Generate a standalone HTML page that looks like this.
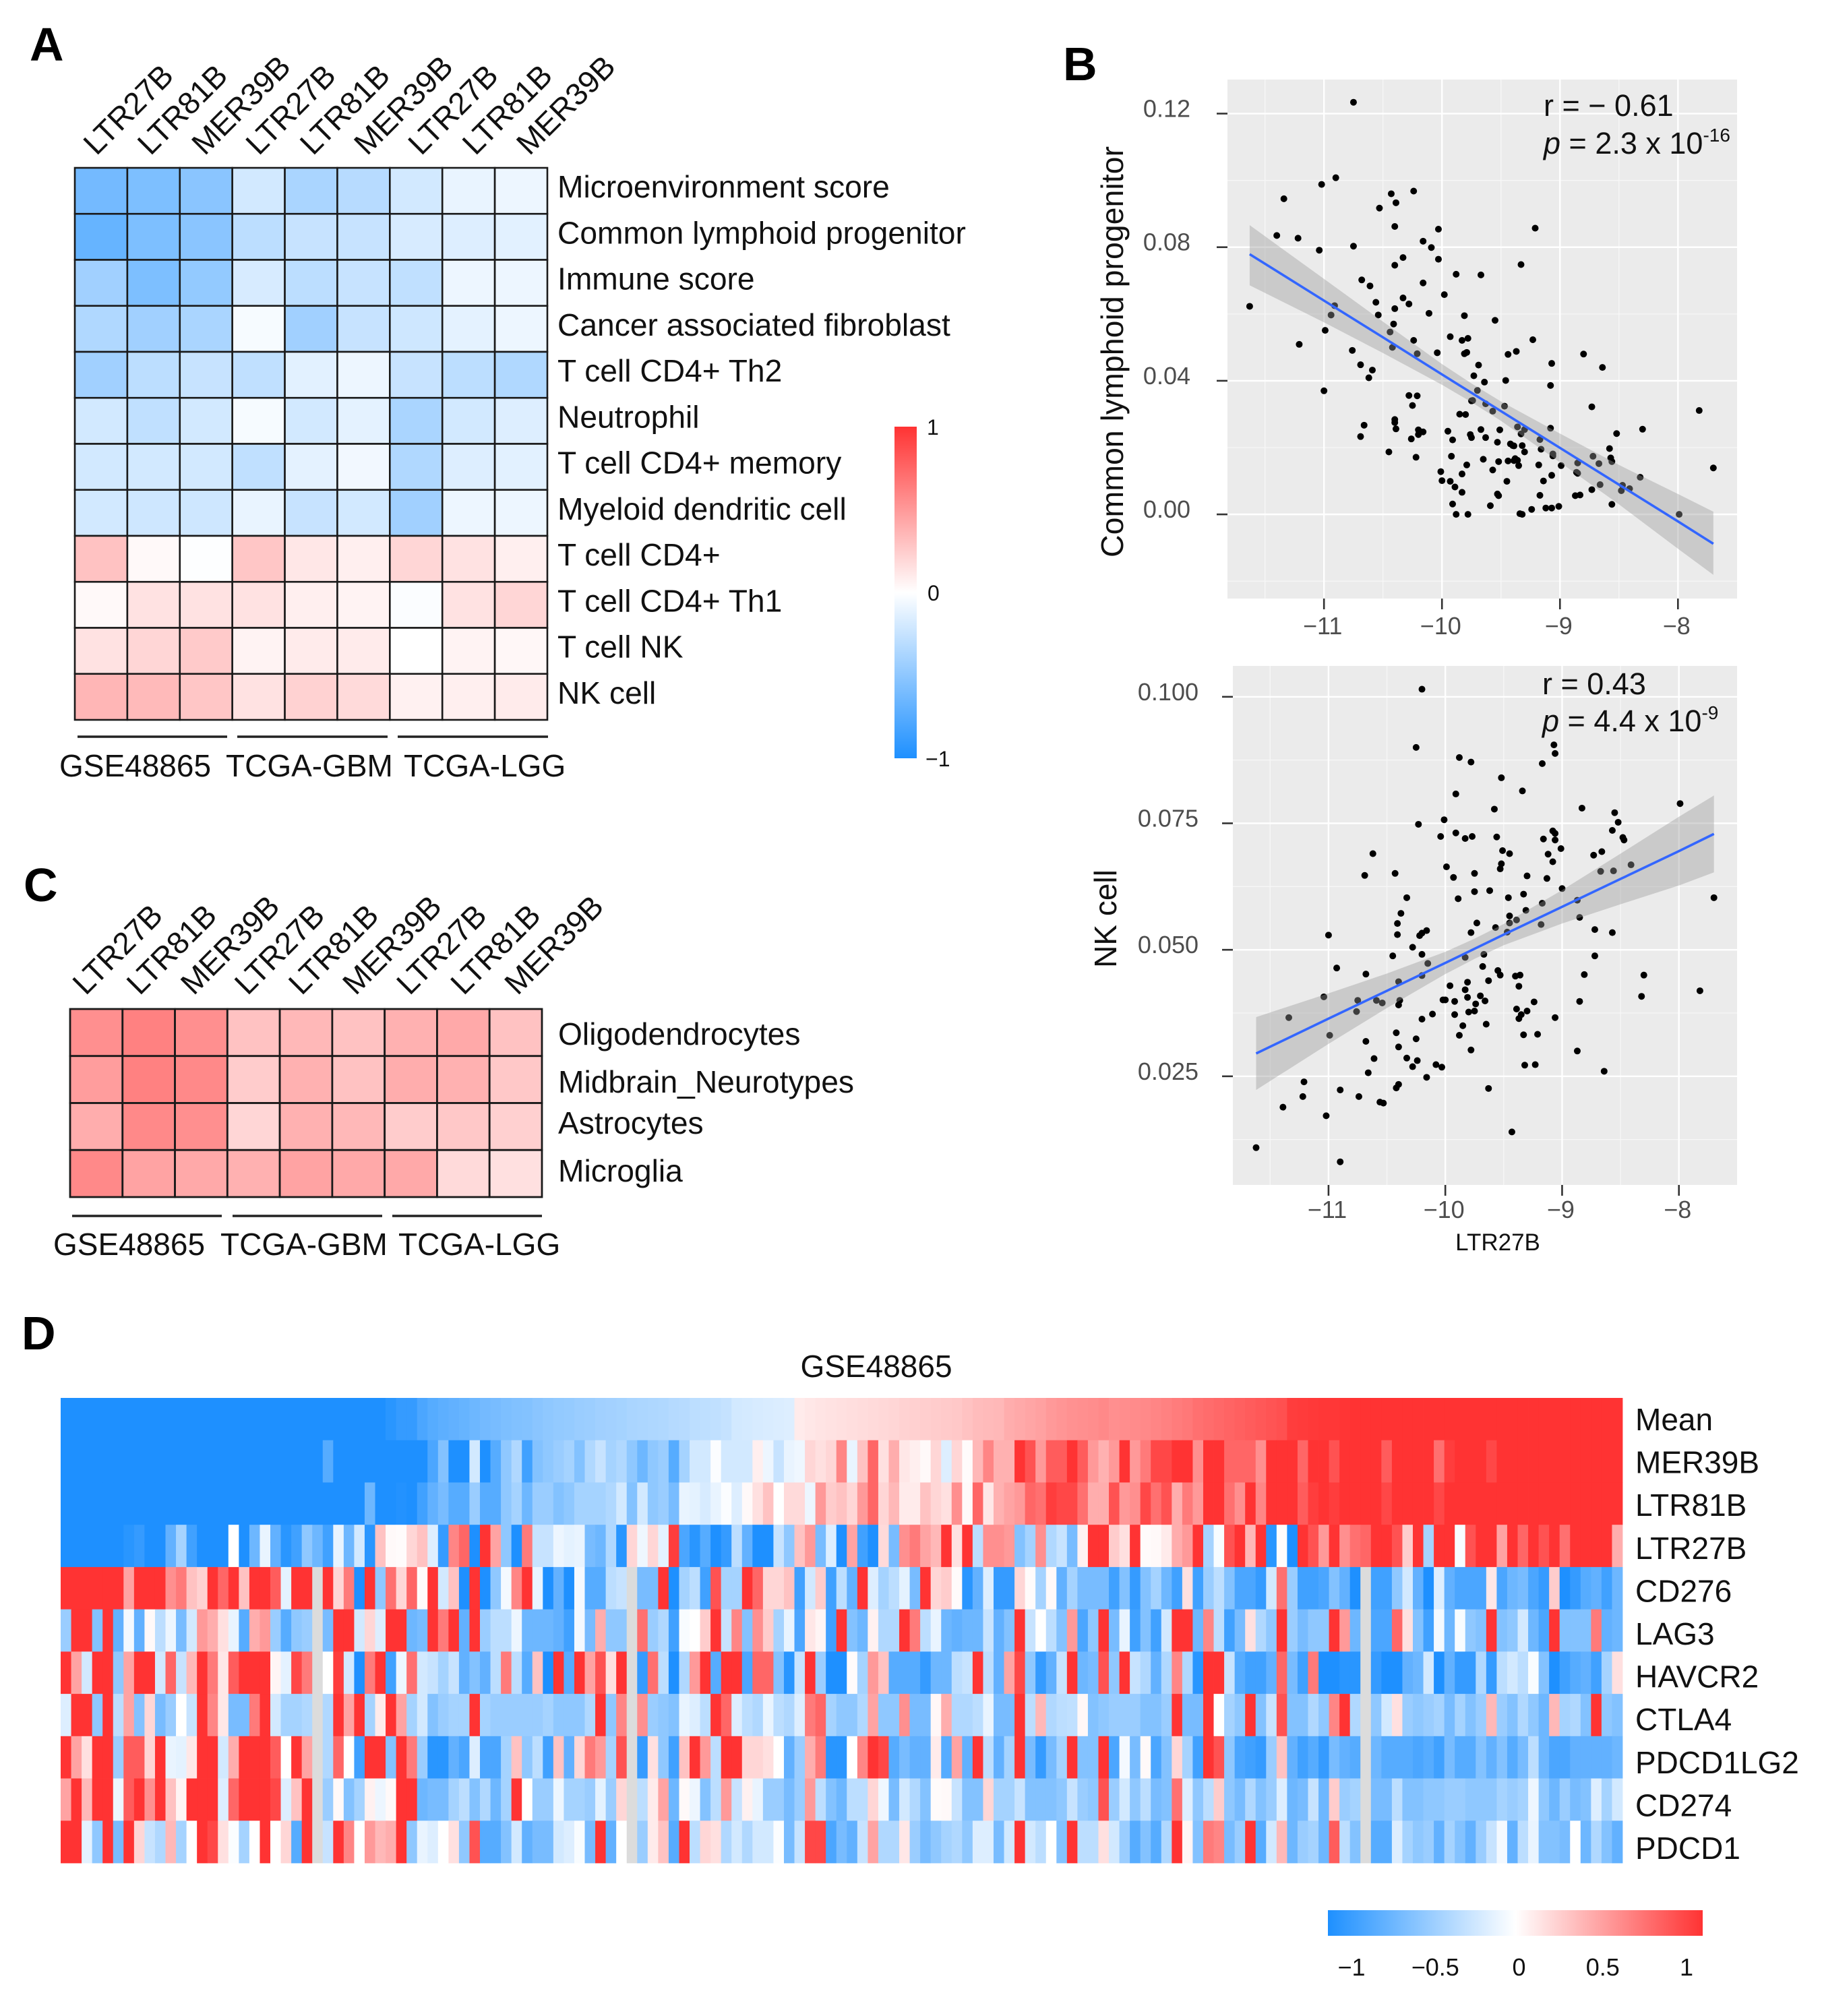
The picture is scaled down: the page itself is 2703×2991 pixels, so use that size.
<!DOCTYPE html>
<html lang="en">
<head>
<meta charset="utf-8">
<title>Panels A-D: heatmaps and scatter plots</title>
<style>
html,body{margin:0;padding:0;background:#fff;}
svg{display:block;}
text{font-family:"Liberation Sans",sans-serif;fill:#111;}
.tick{fill:#4d4d4d;font-size:36px;}
.letter{font-weight:bold;font-size:70px;fill:#000;}
.note{font-size:45px;}
</style>
</head>
<body>
<svg id="fig" xmlns="http://www.w3.org/2000/svg" width="2703" height="2991" viewBox="0 0 2703 2991">
  <rect x="0" y="0" width="2703" height="2991" fill="#fff"/>
  <text class="letter" x="44" y="90">A</text>
  <text class="letter" x="1577" y="119">B</text>
  <text class="letter" x="35" y="1337">C</text>
  <text class="letter" x="32" y="2002">D</text>

  <g id="panelA"></g>
  <g id="panelC"></g>
  <g id="scatter1"></g>
  <g id="scatter2"></g>
  <g id="panelD"></g>

  <text font-size="46.5" text-anchor="middle" transform="translate(1666,522) rotate(-90)">Common lymphoid progenitor</text>
  <text font-size="46" text-anchor="middle" transform="translate(1656,1363) rotate(-90)">NK cell</text>
  <text font-size="35" text-anchor="middle" x="2222" y="1855">LTR27B</text>

  <text class="note" x="2290" y="172">r = − 0.61</text>
  <text class="note" x="2290" y="228"><tspan font-style="italic">p</tspan> = 2.3 x 10<tspan font-size="28" dy="-18">-16</tspan></text>
  <text class="note" x="2288" y="1030">r = 0.43</text>
  <text class="note" x="2288" y="1085"><tspan font-style="italic">p</tspan> = 4.4 x 10<tspan font-size="28" dy="-18">-9</tspan></text>

  <text font-size="46" text-anchor="middle" x="1300" y="2043">GSE48865</text>

  <defs>
    <linearGradient id="gradV" x1="0" y1="0" x2="0" y2="1">
      <stop offset="0" stop-color="#ff3333"/><stop offset="0.5" stop-color="#ffffff"/><stop offset="1" stop-color="#1e90ff"/>
    </linearGradient>
    <linearGradient id="gradH" x1="0" y1="0" x2="1" y2="0">
      <stop offset="0" stop-color="#1e90ff"/><stop offset="0.5" stop-color="#ffffff"/><stop offset="1" stop-color="#ff3333"/>
    </linearGradient>
  </defs>
  <rect x="1327" y="633" width="33" height="492" fill="url(#gradV)"/>
  <text font-size="32" x="1375" y="645">1</text>
  <text font-size="32" x="1376" y="891">0</text>
  <text font-size="32" x="1373" y="1137">−1</text>
  <rect x="1970" y="2834" width="556" height="38" fill="url(#gradH)"/>
</svg>
<script>
// ---------- Panel A data ----------
var aColumns = ["LTR27B","LTR81B","MER39B","LTR27B","LTR81B","MER39B","LTR27B","LTR81B","MER39B"];
var aRowLabels = ["Microenvironment score","Common lymphoid progenitor","Immune score","Cancer associated fibroblast","T cell CD4+ Th2","Neutrophil","T cell CD4+ memory","Myeloid dendritic cell","T cell CD4+","T cell CD4+ Th1","T cell NK","NK cell"];
var aValues = [
[-.62,-.58,-.52,-.2,-.38,-.32,-.2,-.1,-.08],
[-.68,-.58,-.52,-.3,-.25,-.25,-.18,-.15,-.13],
[-.42,-.58,-.48,-.18,-.3,-.25,-.28,-.08,-.08],
[-.35,-.42,-.38,-.04,-.42,-.25,-.22,-.12,-.08],
[-.42,-.3,-.25,-.28,-.13,-.08,-.25,-.3,-.35],
[-.2,-.28,-.2,-.04,-.2,-.12,-.38,-.2,-.15],
[-.2,-.2,-.2,-.28,-.12,-.06,-.35,-.15,-.13],
[-.2,-.22,-.22,-.1,-.25,-.2,-.42,-.08,-.08],
[.3,.03,-.01,.28,.12,.08,.2,.14,.08],
[.03,.14,.14,.14,.08,.06,-.02,.14,.2],
[.14,.2,.26,.06,.1,.1,0,.06,.04],
[.36,.34,.28,.14,.22,.18,.07,.08,.1]
];
var groupLabels = ["GSE48865","TCGA-GBM","TCGA-LGG"];

// ---------- Panel C data ----------
var cColumns = ["LTR27B","LTR81B","MER39B","LTR27B","LTR81B","MER39B","LTR27B","LTR81B","MER39B"];
var cRowLabels = ["Oligodendrocytes","Midbrain_Neurotypes","Astrocytes","Microglia"];
var cValues = [
[.55,.62,.55,.3,.35,.3,.38,.42,.3],
[.48,.62,.58,.25,.38,.3,.4,.38,.27],
[.4,.58,.55,.2,.38,.35,.25,.27,.23],
[.58,.45,.42,.38,.45,.42,.42,.18,.15]
];

// ---------- Panel B: common lymphoid progenitor ----------
var clpX = [-10.75,-10.90,-11.02,-11.34,-10.43,-10.39,-10.24,-10.53,-10.40,-11.40,-11.22,-11.04,-10.75,-10.03,-9.21,-10.16,-10.09,-10.03,-10.33,-10.40,-9.33,-9.88,-9.67,-10.68,-10.61,-10.16,-9.98,-10.56,-10.33,-10.28,-10.40,-10.91,-11.63,-10.94,-10.54,-10.11,-9.81,-9.55,-10.41,-10.99,-10.44,-9.93,-9.83,-9.78,-10.24,-9.23,-11.21,-10.42,-10.76,-10.21,-10.04,-9.81,-9.79,-9.44,-9.37,-8.80,-9.07,-10.69,-9.69,-10.59,-8.64,-10.62,-9.73,-9.64,-9.46,-9.08,-9.70,-11.00,-10.28,-10.21,-9.74,-9.75,-9.63,-10.25,-9.47,-8.73,-9.57,-7.82,-9.85,-9.80,-10.40,-10.40,-10.66,-10.39,-9.36,-9.08,-9.30,-8.30,-10.20,-10.16,-9.95,-9.67,-9.51,-10.20,-9.33,-8.52,-9.76,-9.75,-9.63,-10.69,-10.26,-9.91,-9.17,-9.53,-9.42,-9.40,-9.32,-9.39,-9.16,-8.58,-10.45,-9.30,-9.06,-9.06,-9.92,-8.72,-10.22,-9.65,-9.38,-9.36,-9.39,-9.44,-9.52,-8.57,-8.56,-8.67,-8.85,-9.18,-9.35,-8.99,-9.79,-9.57,-8.86,-8.85,-10.01,-9.83,-9.07,-8.32,-7.70,-10.00,-9.93,-9.45,-9.14,-8.66,-9.89,-8.47,-8.41,-8.48,-8.73,-9.83,-9.53,-9.52,-9.17,-8.87,-8.83,-9.91,-8.56,-9.59,-9.01,-9.24,-9.12,-9.07,-9.88,-9.78,-9.34,-9.32,-7.99];
var clpY = [.1234,.1008,.0988,.0945,.0960,.0933,.0968,.0917,.0862,.0835,.0827,.0791,.0803,.0854,.0857,.0818,.0799,.0764,.0769,.0746,.0748,.0719,.0717,.0702,.0684,.0693,.0658,.0635,.0648,.0630,.0616,.0625,.0623,.0597,.0597,.0602,.0595,.0581,.0570,.0551,.0546,.0532,.0521,.0527,.0521,.0523,.0509,.0500,.0491,.0481,.0484,.0481,.0485,.0479,.0488,.0480,.0452,.0448,.0447,.0432,.0440,.0409,.0415,.0396,.0401,.0386,.0371,.0370,.0356,.0355,.0341,.0340,.0331,.0326,.0324,.0322,.0309,.0311,.0300,.0299,.0284,.0275,.0267,.0256,.0262,.0258,.0254,.0255,.0253,.0247,.0249,.0254,.0253,.0239,.0241,.0242,.0239,.0230,.0230,.0233,.0226,.0223,.0224,.0216,.0211,.0206,.0206,.0205,.0195,.0197,.0187,.0187,.0181,.0175,.0174,.0174,.0171,.0165,.0167,.0162,.0161,.0160,.0158,.0169,.0158,.0152,.0154,.0148,.0146,.0146,.0148,.0133,.0126,.0123,.0128,.0121,.0117,.0111,.0139,.0101,.0099,.0099,.0100,.0089,.0082,.0087,.0077,.0071,.0074,.0066,.0061,.0056,.0057,.0056,.0058,.0031,.0030,.0026,.0024,.0015,.0019,.0019,0,0,.0002,0,0];
var clpFitX = [-11.63,-11,-10.5,-10,-9.75,-9.5,-9,-8.5,-8,-7.7];
var clpFit = [.0779,.0640,.0530,.0419,.0364,.0309,.0199,.0089,-.0021,-.0088];
var clpLow = [.0686,.0575,.0483,.0388,.0336,.0280,.0156,.0030,-.0103,-.0181];
var clpHigh = [.0866,.0705,.0577,.0450,.0392,.0338,.0242,.0148,.0061,.0008];
var clpYTicks = [0,.04,.08,.12];
var clpYTickLabels = ["0.00","0.04","0.08","0.12"];
var clpYMinor = [-.02,.02,.06,.10];
var sharedXTicks = [-11,-10,-9,-8];
var sharedXTickLabels = ["−11","−10","−9","−8"];
var sharedXMinor = [-11.5,-10.5,-9.5,-8.5];

// ---------- Panel B: NK cell ----------
var nkX = [-10.20,-10.25,-9.88,-9.78,-9.07,-9.06,-9.17,-9.52,-9.34,-9.91,-9.58,-8.83,-7.99,-8.55,-8.52,-10.01,-10.23,-9.08,-9.06,-9.91,-9.77,-9.83,-10.04,-9.56,-9.16,-9.06,-8.57,-8.48,-8.47,-9.01,-9.51,-9.45,-10.62,-9.12,-8.73,-8.66,-9.08,-9.52,-9.99,-9.53,-8.41,-8.67,-8.56,-10.69,-10.43,-9.75,-9.93,-9.30,-9.13,-9.00,-9.62,-9.75,-9.33,-9.89,-10.33,-9.46,-7.70,-9.17,-8.87,-9.31,-10.38,-9.45,-8.85,-9.39,-10.41,-9.73,-9.45,-9.18,-9.57,-10.16,-10.20,-10.22,-9.78,-9.47,-8.72,-8.57,-11.00,-10.41,-10.28,-10.20,-9.67,-10.45,-9.83,-8.72,-10.15,-9.68,-10.93,-9.55,-9.53,-10.68,-10.20,-9.36,-9.40,-8.81,-8.30,-9.63,-10.40,-9.81,-9.96,-9.37,-9.83,-7.82,-9.70,-9.81,-8.32,-11.04,-10.02,-10.00,-10.75,-10.39,-9.66,-10.59,-10.54,-9.92,-8.85,-9.24,-9.74,-10.40,-9.39,-9.30,-9.75,-10.76,-9.80,-9.35,-10.11,-9.92,-9.37,-9.06,-11.34,-10.20,-9.65,-9.85,-10.42,-10.99,-9.33,-9.21,-9.88,-10.25,-10.68,-10.40,-9.78,-8.87,-10.33,-10.61,-10.24,-10.08,-9.32,-9.23,-10.28,-10.03,-8.64,-10.66,-10.16,-11.21,-10.40,-10.42,-9.63,-10.90,-11.22,-10.74,-10.56,-10.53,-11.39,-11.02,-9.43,-11.62,-10.90];
var nkY = [.1015,.0900,.0880,.0871,.0905,.0888,.0868,.0840,.0814,.0808,.0778,.0780,.0789,.0771,.0752,.0757,.0748,.0735,.0730,.0731,.0724,.0720,.0724,.0723,.0719,.0717,.0736,.0722,.0717,.0700,.0696,.0690,.0690,.0689,.0687,.0694,.0674,.0670,.0664,.0660,.0668,.0655,.0656,.0647,.0651,.0651,.0643,.0646,.0641,.0621,.0617,.0615,.0610,.0601,.0603,.0603,.0603,.0592,.0598,.0578,.0572,.0567,.0564,.0559,.0552,.0553,.0553,.0550,.0544,.0538,.0533,.0528,.0534,.0535,.0540,.0534,.0529,.0530,.0505,.0491,.0491,.0488,.0485,.0488,.0473,.0467,.0464,.0459,.0450,.0452,.0449,.0450,.0448,.0451,.0450,.0439,.0437,.0436,.0429,.0428,.0421,.0419,.0409,.0406,.0408,.0407,.0401,.0401,.0400,.0400,.0399,.0400,.0395,.0398,.0398,.0397,.0393,.0391,.0383,.0379,.0379,.0378,.0377,.0372,.0373,.0372,.0364,.0366,.0366,.0363,.0353,.0350,.0336,.0331,.0332,.0333,.0331,.0324,.0319,.0308,.0302,.0300,.0286,.0285,.0281,.0273,.0272,.0273,.0269,.0268,.0260,.0257,.0248,.0239,.0234,.0227,.0226,.0223,.0210,.0210,.0199,.0197,.0189,.0172,.0140,.0109,.0081];
var nkFitX = [-11.62,-11,-10.5,-10,-9.75,-9.5,-9,-8.5,-8,-7.7];
var nkFit = [.0295,.0364,.0419,.0474,.0502,.0530,.0585,.0640,.0695,.0729];
var nkLow = [.0223,.0314,.0385,.0452,.0482,.0509,.0552,.0590,.0627,.0653];
var nkHigh = [.0367,.0414,.0453,.0496,.0522,.0551,.0618,.0690,.0763,.0805];
var nkYTicks = [.025,.05,.075,.1];
var nkYTickLabels = ["0.025","0.050","0.075","0.100"];
var nkYMinor = [.0125,.0375,.0625,.0875];

// ---------- Panel D data ----------
var dRowLabels = ["Mean","MER39B","LTR81B","LTR27B","CD276","LAG3","HAVCR2","CTLA4","PDCD1LG2","CD274","PDCD1"];
var dMean = [-1,-1,-1,-1,-1,-1,-1,-1,-1,-1,-1,-1,-1,-1,-1,-1,-1,-1,-1,-1,-1,-1,-1,-1,-1,-1,-1,-1,-1,-1,-1,-.95,-.9,-.9,-.8,-.75,-.72,-.7,-.68,-.65,-.62,-.6,-.58,-.56,-.55,-.52,-.5,-.48,-.47,-.45,-.44,-.42,-.41,-.4,-.38,-.37,-.36,-.35,-.33,-.32,-.3,-.29,-.28,-.26,-.2,-.19,-.18,-.17,-.16,-.15,.1,.12,.13,.14,.15,.16,.17,.18,.19,.2,.22,.23,.24,.25,.26,.27,.3,.33,.34,.35,.4,.42,.44,.46,.5,.52,.54,.55,.56,.58,.55,.56,.57,.58,.6,.62,.64,.66,.7,.72,.74,.76,.78,.8,.82,.84,.86,.95,.96,.97,.98,.98,.99,1,1,1,1,1,1,1,1,1,1,1,1,1,1,1,1,1,1,1,1,1,1,1,1,1,1];
var dMER39B = [-1,-1,-1,-1,-1,-1,-1,-1,-1,-1,-1,-1,-1,-1,-1,-1,-1,-1,-1,-1,-1,-1,-1,-1,-1,-.75,-1,-1,-1,-1,-1,-1,-1,-1,-1,-.8,-.55,-1,-1,-.2,-1,-.75,-.5,-.35,-.85,-.55,-.5,-.45,-.4,-.55,-.35,-.25,-.4,-.35,-.5,-.65,-.5,-.45,-.75,-.4,-.2,-.2,-.02,-.2,-.2,-.2,.08,-.08,-.25,-.1,-.07,.2,.15,.2,.6,-.1,.3,.75,.15,.4,.12,.08,.03,.2,-.15,.2,.02,.35,.6,.38,.38,1,.85,.5,.8,.8,1,.8,.5,.38,.5,1,.5,.65,.9,.9,1,1,.55,1,1,.75,.75,.75,.55,1,1,1,.75,1,1,.85,1,1,1,1,.8,1,1,1,1,.7,.95,1,1,1,.9,1,1,1,1,1,1,1,1,1,1,1,1];
var dLTR81B = [-1,-1,-1,-1,-1,-1,-1,-1,-1,-1,-1,-1,-1,-1,-1,-1,-1,-1,-1,-1,-1,-1,-1,-1,-1,-1,-1,-1,-1,-.65,-1,-1,-.98,-1,-.85,-.7,-.6,-.75,-.75,-.45,-.75,-.75,-.5,-.4,-.65,-.45,-.45,-.55,-.5,-.4,-.4,-.4,-.35,-.2,-.55,-.2,-.5,-.45,-.6,-.1,-.12,-.18,-.1,-.02,-.15,.03,.15,.3,0,.18,.18,-.08,.5,.25,.3,.2,.5,.75,.2,.35,.1,.1,.3,.2,.15,.55,.03,.75,.12,.38,.45,.5,.75,.7,.95,.9,.9,.7,.4,.4,.85,.5,.55,.9,.7,.85,.4,.65,.5,1,1,.7,.55,1,.6,1,1,1,.8,.95,1,.95,1,1,1,1,.9,1,1,1,1,.9,1,1,1,1,1,1,1,1,1,1,1,1,1,1,1,1,1];
var dLTR27B = [-1,-1,-1,-1,-1,-1,-.95,-.9,-1,-1,-.7,-.4,-.85,-1,-1,-1,0,-1,-.65,-.1,-.7,-.95,-.85,-.5,-.65,-.85,-.1,-.65,-.2,-.95,.3,.03,.02,.2,.3,-.15,-.9,.6,.75,-1,1,.45,-.5,-1,.65,-.25,-.25,-.08,-.12,-.1,-.6,-.65,-.35,-.95,.2,-.07,.2,-.12,.95,-.8,-.95,-.75,-1,-.9,-.3,-.7,-1,-1,-.25,-.5,.3,.5,-.6,-.15,-1,.45,-.85,-1,.18,-.6,.55,.65,.45,.35,1,.15,1,-.3,.55,.55,.5,-.55,-.4,.55,-.35,-.25,-.6,.07,1,1,.25,.15,1,.02,.03,.1,.4,.5,1,-.4,-.03,.85,1,.35,1,-.95,.02,-1,1,.85,.5,1,.55,.7,.75,1,1,.85,.25,1,-.4,1,1,-.03,.85,1,1,.45,1,.75,1,.85,1,.7,1,1,1,1,.4];
var dCD276 = [1,1,1,1,1,1,.45,1,1,1,.55,.65,.3,.22,1,.75,1,.3,1,1,.8,-.12,1,1,null,1,.2,.65,-1,1,-.5,.7,.2,.75,.02,1,-.2,.3,-1,1,-1,-.5,-.05,.6,1,-.1,-1,-.7,-1,-.05,-.75,-.75,-.3,-.25,null,-.6,-.6,1,-1,-.4,-.3,-.85,.85,-.4,-.4,1,.75,.2,.2,.3,-.85,-.2,.25,-.85,-.3,-.7,1,-.15,-.4,-.3,-.12,-.6,1,.2,.25,.02,-.95,-.7,-.15,-.9,-.9,.2,.02,-.4,.03,-.7,-.4,-.6,-.6,-.6,-.85,-.55,-.9,-.55,-.4,-.65,-.85,.15,-.85,-.45,-.3,-.55,-.8,-.8,-.9,-.2,.7,-.45,-.85,-.85,-.8,-.55,-.7,-1,null,-.85,-.85,-.5,-.2,-.7,-1,-.15,-.7,-.8,-.8,-.8,.12,-.8,-.65,-.6,-.8,-.9,.25,-1,-.9,-.75,-.7,-.85,-.65];
var dLAG3 = [-.45,1,1,-.55,1,-.7,-.05,-.7,.03,-.3,-.08,-.6,-.2,.5,.4,.15,-.1,-.75,.4,.5,-.45,-.75,-.5,-.45,null,-.6,1,1,-.2,.2,-.15,1,1,-.65,-.6,1,.65,1,-.7,1,-.45,-.3,-.3,-.08,-.65,-.65,-.65,-.7,-.85,-.05,-.6,.4,-.5,-.5,null,.7,-.45,-.35,-.85,-.03,0,.25,1,-.25,.6,-.55,.55,.25,-.4,-.1,-.8,.12,.05,-.85,1,-.55,-.65,.07,-.35,-.35,1,.65,-.3,-.1,-.65,-.7,-.65,-.65,-.25,-.7,-.55,1,-.25,0,-.3,-.55,.5,-.8,-.5,1,-.6,-.1,-.85,-.55,-.85,-.2,1,1,-.65,.6,-.3,-.85,-.6,.15,-.35,-.5,1,-.45,-.6,-.5,-.5,1,.5,-.65,null,-.8,-.8,.75,.15,-.55,-.85,-.05,-.65,-.03,-.5,-.55,1,-.55,-.5,-.2,-.65,-.8,1,-.55,-.55,-.55,.65,-.7,-.65];
var dHAVCR2 = [1,.45,-.2,1,1,-.5,.45,1,1,-.2,.75,-.25,.35,1,.65,.12,.8,1,1,1,.05,-.12,.9,.65,null,0,.95,-.2,-1,.65,1,-.85,-.08,.7,-.2,-.25,-.4,-.25,-.7,-.55,-.7,-.3,.65,-.3,-.75,.3,-1,1,-.75,1,.45,.85,.15,1,null,-.9,.7,-.3,-1,-.35,.5,1,-.75,1,1,-.8,.75,.75,-.55,-.95,-.25,1,-.45,-1,-1,.02,-.4,.5,.3,-.75,-.75,-.75,-.9,-.65,-.65,-.3,-.25,1,-.3,-.7,.45,.9,-.5,-.9,-.7,-.25,1,-.65,-.6,.85,-.5,1,-.25,-.35,-.7,-.35,.6,-.35,-.95,1,1,-.25,-.75,-.85,-.85,-.7,.75,-.6,-.85,.65,-1,-1,-.95,-.95,null,-.9,-1,-1,-.7,-.65,-.2,-1,-.7,-.9,-.9,-.35,-.9,-.3,-.2,-.3,-.03,-.55,-1,-.85,-.75,-.7,-.85,-.4,.15];
var dCTLA4 = [-.15,1,1,-.5,1,-.3,.45,-.55,.2,-.6,-.45,0,-.25,1,.6,.12,-.6,-.6,.65,1,-.2,-.4,-.4,-.35,null,-.35,1,.45,1,-.4,.1,1,.45,-.4,-.2,-.55,-.45,-.4,-.4,1,-.4,-.45,-.45,-.45,-.45,-.45,-.4,-.5,-.5,-.5,-.35,1,-.5,.6,null,.55,-.45,-.5,-.55,-.1,-.15,-.3,1,.75,-.15,-.3,-.35,-.1,-.3,-.35,-.15,.65,.75,-.4,-.5,-.5,-.35,.45,-.5,-.5,.55,-.6,-.6,.04,.4,-.35,-.35,-.3,-.1,-.6,-.6,1,-.3,.35,-.35,-.3,-.28,.04,-.55,-.5,-.45,-.45,-.45,-.55,-.55,-.45,1,-.6,-.6,1,0,-.4,-.5,1,-.55,-.25,.85,-.55,-.55,-.35,-.5,.6,1,-.35,null,-.5,-.2,.15,-.45,-.5,-.45,-.4,-.6,-.4,-.55,-.45,.35,-.45,-.55,-.35,-.5,-.65,.35,-.4,-.35,-.55,1,-.5,-.55];
var dPDCD1LG2 = [1,.45,.15,1,1,-.45,.8,.8,.2,1,-.1,-.12,.12,1,1,-.2,.4,1,1,1,.8,0,1,.45,null,-.35,.75,0,-.85,1,1,-.55,1,.65,-.45,-.95,-.95,-.7,-.8,-.15,-.8,-.8,-.4,.3,-.5,-.3,-.85,.3,-.7,.2,.65,.5,-.4,.85,null,-.9,.15,-.5,-.85,.3,1,.5,-.3,1,1,.2,.2,.15,0,-.7,-.45,.4,.65,-.95,-.95,0,.6,1,.9,-.75,-.6,-.7,-.7,.1,-.75,.45,-.7,1,-.3,-.7,-.4,1,-.6,-.9,-.6,-.4,1,-.55,-.55,1,-.8,-.05,-.6,.03,-.8,-.55,.2,-.4,-.85,1,.85,-.5,-.8,-.85,-.9,-.45,.3,-.7,-.85,-.75,-.9,-.6,-.7,-.75,null,-.65,-.75,-.75,-.75,-.8,-.75,-.85,-.6,-.75,-.75,-.55,-.7,-.55,-.75,-.6,-.3,-.65,-.8,-.8,-.7,-.7,-.7,-.7,-.65];
var dCD274 = [.45,1,.35,1,1,-.08,.8,1,.55,1,.3,.05,1,1,1,-.15,.75,1,1,1,.9,-.15,.3,1,null,-.45,.03,-.55,-.4,.07,-.08,.03,1,1,-.65,-.6,-.6,-.4,-.3,-.55,-.35,-.65,-.4,1,0,-.45,-.45,-.08,-.4,-.4,-.45,-.12,-.45,.2,null,-.3,.1,.45,-.65,.03,-.08,-.55,-.3,.5,-.25,.07,-.1,-.45,-.45,-.6,-.45,.5,-.3,-.55,-.65,-.3,-.3,.2,-.07,-.6,-.2,-.35,-.55,.02,.03,-.25,-.55,-.55,.2,-.4,-.4,-.25,-.55,-.55,-.55,-.5,-.25,-.45,-.5,.85,-.45,-.2,-.5,-.3,-.6,-.55,.7,-.15,-.5,-.3,.25,-.5,-.6,-.35,-.55,-.45,-.15,-.65,-.6,-.25,-.65,.25,-.45,-.4,null,-.6,-.6,-.3,-.55,-.55,-.5,-.5,-.45,-.45,-.5,-.5,-.5,-.4,-.45,-.4,-.08,-.5,-.65,-.45,-.6,-.55,-.15,-.4,-.2];
var dPDCD1 = [1,1,-.12,-.5,1,-.6,1,.2,-.25,-.35,.35,-.4,0,1,.9,.15,-.02,-.4,0,1,0,.2,-.75,1,null,-.25,1,.6,0,.5,.35,.4,1,-.5,-.1,-.15,0,.15,-.5,.85,-.75,-.75,-.55,-.2,-.7,-.6,-.6,-.2,-.15,-.03,-.6,1,-.7,0,null,-.45,.1,.3,-.75,1,-.3,.2,.15,-.35,-.2,-.35,-.2,-.2,-.02,-.6,-.25,.9,.9,-.8,-.6,-.7,-.25,.45,-.35,-.35,.12,-.45,-.6,-.5,-.4,-.35,-.5,-.15,-.15,-.6,-.2,1,-.2,-.3,0,-.55,1,-.3,-.3,.15,-.2,-.45,-.75,-.55,-.75,-.35,1,.05,-.55,.65,.6,-.6,-.45,1,-.75,-.2,.35,-.65,-.45,-.4,-.65,.8,-.3,-.55,null,-.75,-.75,-.15,-.4,-.5,-.45,-.7,-.4,-.55,-.7,-.45,-.25,-.05,-.7,-.3,-.1,-.55,-.55,-.6,0,-.65,-.35,-.55,-.7];
var dColorbarTicks = [-1,-.5,0,.5,1];
var dColorbarLabels = ["−1","−0.5","0","0.5","1"];

// ---------- helpers ----------
var NS = "http://www.w3.org/2000/svg";
function mk(parent, tag, attrs, txt) {
  var el = document.createElementNS(NS, tag);
  for (var k in attrs) el.setAttribute(k, attrs[k]);
  if (txt !== undefined) el.textContent = txt;
  parent.appendChild(el);
  return el;
}
function colorOf(v) {
  if (v === null) return "#dcdcdc";
  var t = Math.max(-1, Math.min(1, v));
  var r, g, b;
  if (t < 0) {
    var a = -t;
    r = 255 + (30 - 255) * a; g = 255 + (144 - 255) * a; b = 255;
  } else {
    r = 255; g = 255 + (51 - 255) * t; b = 255 + (51 - 255) * t;
  }
  return "rgb(" + Math.round(r) + "," + Math.round(g) + "," + Math.round(b) + ")";
}
function linScale(d0, d1, r0, r1) {
  return function (v) { return r0 + (v - d0) / (d1 - d0) * (r1 - r0); };
}

// ---------- small correlation heatmaps ----------
function drawGridHeatmap(g, opt) {
  var nr = opt.values.length, nc = opt.values[0].length;
  var cw = (opt.right - opt.left) / nc, ch = (opt.bottom - opt.top) / nr;
  for (var r = 0; r < nr; r++) {
    for (var c = 0; c < nc; c++) {
      var cell = mk(g, "rect", {x: opt.left + c * cw, y: opt.top + r * ch, width: cw, height: ch, fill: colorOf(opt.values[r][c]), stroke: "#1a1a1a", "stroke-width": opt.stroke});
      
      
    }
  }
  opt.rowLabels.forEach(function (lab, i) {
    var y = opt.rowBaselines ? opt.rowBaselines[i] : opt.top + ch * i + opt.rowOffset;
    var t = mk(g, "text", {x: opt.labelX, y: y, "font-size": 46.2}, lab);
    
    
  });
  opt.columns.forEach(function (lab, i) {
    var t = mk(g, "text", {"font-size": 46, transform: "translate(" + (opt.colX + i * opt.colStep) + "," + opt.colY + ") rotate(-45)"}, lab);
    
    
  });
  groupLabels.forEach(function (lab, i) {
    var ln = mk(g, "line", {x1: opt.groupLines[i][0], x2: opt.groupLines[i][1], y1: opt.groupLineY, y2: opt.groupLineY, stroke: "#222", "stroke-width": 3.5});
    
    
    var t = mk(g, "text", {x: opt.groupX[i], y: opt.groupY, "font-size": 46}, lab);
    
    
  });
}
drawGridHeatmap(document.getElementById("panelA"), {
  values: aValues, rowLabels: aRowLabels, columns: aColumns,
  left: 111, right: 812, top: 249, bottom: 1068, stroke: 2.6,
  labelX: 827, rowOffset: 44, colX: 143, colY: 232, colStep: 80.3,
  groupLines: [[115,337],[352,575],[590,813]], groupLineY: 1093,
  groupX: [88,335,599], groupY: 1152
});
drawGridHeatmap(document.getElementById("panelC"), {
  values: cValues, rowLabels: cRowLabels, columns: cColumns,
  left: 104, right: 804, top: 1497, bottom: 1776, stroke: 2.8,
  labelX: 828, rowBaselines: [1550,1621,1682,1753], colX: 127, colY: 1478, colStep: 80.1,
  groupLines: [[107,329],[345,567],[582,804]], groupLineY: 1804,
  groupX: [79,327,591], groupY: 1862
});

// ---------- scatter plots ----------
function drawScatter(g, o) {
  var xs = linScale(o.xDomain[0], o.xDomain[1], o.left, o.right);
  var ys = linScale(o.yDomain[0], o.yDomain[1], o.bottom, o.top);
  var bg = mk(g, "rect", {x: o.left, y: o.top, width: o.right - o.left, height: o.bottom - o.top, fill: "#ebebeb"});
  
  
  o.xMinor.forEach(function (v) {
    var ln = mk(g, "line", {x1: xs(v), x2: xs(v), y1: o.top, y2: o.bottom, stroke: "#f7f7f7", "stroke-width": 1.3});
    
    
  });
  o.yMinor.forEach(function (v) {
    var ln = mk(g, "line", {x1: o.left, x2: o.right, y1: ys(v), y2: ys(v), stroke: "#f7f7f7", "stroke-width": 1.3});
    
    
  });
  o.xTicks.forEach(function (v, i) {
    var ln = mk(g, "line", {x1: xs(v), x2: xs(v), y1: o.top, y2: o.bottom, stroke: "#fff", "stroke-width": 2.4});
    
    
    var tk = mk(g, "line", {x1: xs(v), x2: xs(v), y1: o.bottom, y2: o.bottom + 16, stroke: "#333", "stroke-width": 2.6});
    
    
    var t = mk(g, "text", {"class": "tick", x: xs(v) - 2, y: o.xLabelY, "text-anchor": "middle"}, o.xLabels[i]);
    
    
  });
  o.yTicks.forEach(function (v, i) {
    var ln = mk(g, "line", {x1: o.left, x2: o.right, y1: ys(v), y2: ys(v), stroke: "#fff", "stroke-width": 2.4});
    
    
    var tk = mk(g, "line", {x1: o.left - 16, x2: o.left, y1: ys(v), y2: ys(v), stroke: "#333", "stroke-width": 2.6});
    
    
    var t = mk(g, "text", {"class": "tick", x: o.yLabelX, y: ys(v) + o.yLabelDy, "text-anchor": "end"}, o.yLabels[i]);
    
    
  });
  o.px.forEach(function (v, i) {
    var c = mk(g, "circle", {cx: xs(v), cy: ys(o.py[i]), r: 5, fill: "#000"});
    
    
  });
  var upper = o.fitX.map(function (v, i) { return xs(v) + "," + ys(o.high[i]); });
  var lower = o.fitX.map(function (v, i) { return xs(v) + "," + ys(o.low[i]); }).reverse();
  var rib = mk(g, "polygon", {points: upper.concat(lower).join(" "), fill: "#999", "fill-opacity": 0.4});
  
  
  var fit = mk(g, "polyline", {points: o.fitX.map(function (v, i) { return xs(v) + "," + ys(o.fit[i]); }).join(" "), fill: "none", stroke: "#3366ff", "stroke-width": 3.6});
  
  
}
drawScatter(document.getElementById("scatter1"), {
  left: 1821, right: 2577, top: 118, bottom: 888,
  xDomain: [-11.818, -7.499], yDomain: [-.0252, .1302],
  px: clpX, py: clpY, fitX: clpFitX, fit: clpFit, low: clpLow, high: clpHigh,
  xTicks: sharedXTicks, xLabels: sharedXTickLabels, xMinor: sharedXMinor,
  yTicks: clpYTicks, yLabels: clpYTickLabels, yMinor: clpYMinor,
  xLabelY: 941, yLabelX: 1766, yLabelDy: 5
});
drawScatter(document.getElementById("scatter2"), {
  left: 1829, right: 2577, top: 988, bottom: 1758,
  xDomain: [-11.819, -7.502], yDomain: [.00353, .1061],
  px: nkX, py: nkY, fitX: nkFitX, fit: nkFit, low: nkLow, high: nkHigh,
  xTicks: sharedXTicks, xLabels: sharedXTickLabels, xMinor: sharedXMinor,
  yTicks: nkYTicks, yLabels: nkYTickLabels, yMinor: nkYMinor,
  xLabelY: 1807, yLabelX: 1778, yLabelDy: 5
});

// ---------- panel D heatmap ----------
(function () {
  var g = document.getElementById("panelD");
  var rows = [dMean, dMER39B, dLTR81B, dLTR27B, dCD276, dLAG3, dHAVCR2, dCTLA4, dPDCD1LG2, dCD274, dPDCD1];
  var left = 90, right = 2407, top = 2074, bottom = 2764;
  var cw = (right - left) / dMean.length, rh = (bottom - top) / rows.length;
  rows.forEach(function (vals, r) {
    vals.forEach(function (v, c) {
      var cell = mk(g, "rect", {x: left + c * cw, y: top + r * rh, width: cw + 0.4, height: rh + 0.4, fill: colorOf(v)});
      
      
    });
  });
  dRowLabels.forEach(function (lab, i) {
    var t = mk(g, "text", {x: 2426, y: 2122 + i * 63.6, "font-size": 46}, lab);
    
    
  });
  var cs = linScale(-1, 1, 2005, 2502);
  dColorbarTicks.forEach(function (v, i) {
    var t = mk(g, "text", {x: cs(v), y: 2931, "font-size": 36, "text-anchor": "middle"}, dColorbarLabels[i]);
    
    
  });
})();
</script>
</body>
</html>
